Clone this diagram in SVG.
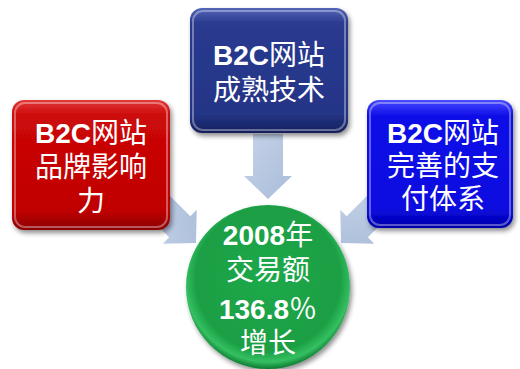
<svg xmlns="http://www.w3.org/2000/svg" width="520" height="369" viewBox="0 0 520 369">
<defs>
<linearGradient id="gRed" x1="0" y1="0" x2="0" y2="1"><stop offset="0" stop-color="#e23a3a"/><stop offset="0.12" stop-color="#cc0808"/><stop offset="0.85" stop-color="#c00000"/><stop offset="1" stop-color="#8a0000"/></linearGradient>
<linearGradient id="gNavy" x1="0" y1="0" x2="0" y2="1"><stop offset="0" stop-color="#5466b8"/><stop offset="0.12" stop-color="#2a3a90"/><stop offset="0.85" stop-color="#243586"/><stop offset="1" stop-color="#141f5c"/></linearGradient>
<linearGradient id="gBlue" x1="0" y1="0" x2="0" y2="1"><stop offset="0" stop-color="#4a4aff"/><stop offset="0.12" stop-color="#1010e8"/><stop offset="0.85" stop-color="#0a0ae0"/><stop offset="1" stop-color="#0000a8"/></linearGradient>
<radialGradient id="gGreen" cx="0.5" cy="0.45" r="0.55"><stop offset="0" stop-color="#1fa94a"/><stop offset="0.8" stop-color="#1a9e44"/><stop offset="0.92" stop-color="#35c062"/><stop offset="1" stop-color="#0c7a30"/></radialGradient>
<linearGradient id="gArrow" x1="0" y1="0" x2="1" y2="1"><stop offset="0" stop-color="#c6d3e8"/><stop offset="1" stop-color="#a9bcd9"/></linearGradient>
<filter id="sh" x="-10%" y="-10%" width="130%" height="130%"><feGaussianBlur in="SourceAlpha" stdDeviation="2.5"/><feOffset dx="2" dy="3"/><feComponentTransfer><feFuncA type="linear" slope="0.45"/></feComponentTransfer><feMerge><feMergeNode/><feMergeNode in="SourceGraphic"/></feMerge></filter>
<path id="arr" d="M-15,-65 L15,-65 L15,-23 L24,-23 L0,0 L-24,-23 L-15,-23 Z"/>
</defs>
<style>
.box{filter:url(#sh);}
.hl{fill:none;stroke:#ffffff;stroke-opacity:0.35;stroke-width:2;}
.t{font-family:"Liberation Sans","Noto Sans CJK SC",sans-serif;font-size:28px;fill:#ffffff;text-anchor:middle;}
.b{font-weight:bold;}
.arrow{fill:url(#gArrow);}
</style>
<g id="connectors">
<use href="#arr" class="arrow" transform="translate(268,199)"/>
<use href="#arr" class="arrow" transform="translate(196,243) rotate(-45)"/>
<use href="#arr" class="arrow" transform="translate(341,243) rotate(45)"/>
</g>
<g id="node-red">
<rect class="box" x="12" y="100" width="158" height="130" rx="12" fill="url(#gRed)"/>
<rect class="hl" x="15" y="103" width="152" height="124" rx="10"/>
<text class="t" x="91" y="143"><tspan class="b">B2C</tspan>网站</text>
<text class="t" x="91" y="177">品牌影响</text>
<text class="t" x="91" y="211">力</text>
</g>
<g id="node-navy">
<rect class="box" x="190" y="8" width="158" height="125" rx="12" fill="url(#gNavy)"/>
<rect class="hl" x="193" y="11" width="152" height="119" rx="10"/>
<text class="t" x="269" y="65"><tspan class="b">B2C</tspan>网站</text>
<text class="t" x="269" y="100">成熟技术</text>
</g>
<g id="node-blue">
<rect class="box" x="367" y="100" width="146" height="128" rx="12" fill="url(#gBlue)"/>
<rect class="hl" x="370" y="103" width="140" height="122" rx="10"/>
<text class="t" x="443" y="143"><tspan class="b">B2C</tspan>网站</text>
<text class="t" x="443" y="176">完善的支</text>
<text class="t" x="443" y="209">付体系</text>
</g>
<g id="node-green">
<circle class="box" cx="268" cy="287" r="82" fill="url(#gGreen)"/>
<text class="t" x="268" y="245"><tspan class="b">2008</tspan>年</text>
<text class="t" x="268" y="280">交易额</text>
<text class="t" x="268" y="319"><tspan class="b">136.8</tspan>％</text>
<text class="t" x="268" y="353">增长</text>
</g>
</svg>
